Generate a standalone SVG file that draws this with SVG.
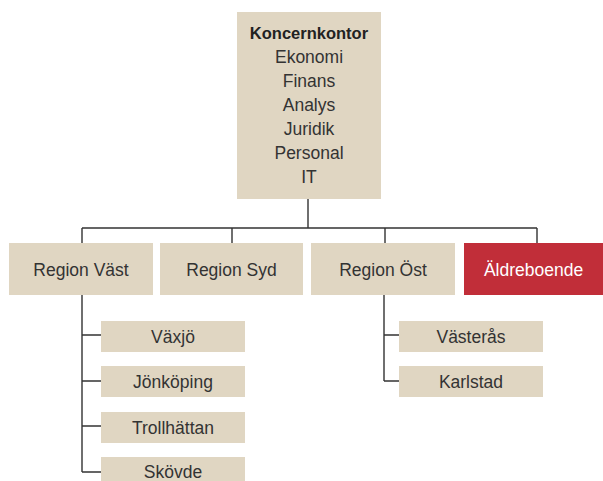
<svg xmlns="http://www.w3.org/2000/svg" width="603" height="481" viewBox="0 0 603 481">
<style>
.box{fill:#e0d6c2}
.red{fill:#c12e39}
.t{font-family:"Liberation Sans",Arial,sans-serif;font-size:17.5px;fill:#333;text-anchor:middle}
.b{font-weight:bold;font-size:16.5px;fill:#222}
.w{fill:#fff}
.c{fill:none;stroke:#333;stroke-width:1.4}
</style>
<rect width="603" height="481" fill="#fff"/>
<g id="connectors">
<path class="c" d="M308 199V228M82 228H537M82 228V243M232 228V243M385 228V243M537 228V243"/>
<path class="c" d="M82 295V472M82 335H101M82 381H101M82 426H101M82 472H101"/>
<path class="c" d="M384 295V381M384 335H399M384 381H399"/>
</g>
<g id="koncernkontor">
<rect class="box" x="237" y="12" width="144" height="187"/>
<text class="t b" x="309" y="39">Koncernkontor</text>
<text class="t" x="309" y="63">Ekonomi</text>
<text class="t" x="309" y="87">Finans</text>
<text class="t" x="309" y="111">Analys</text>
<text class="t" x="309" y="135">Juridik</text>
<text class="t" x="309" y="159">Personal</text>
<text class="t" x="309" y="183">IT</text>
</g>
<g id="region-vast"><rect class="box" x="9" y="243" width="144" height="52"/><text class="t" x="81" y="276">Region Väst</text></g>
<g id="region-syd"><rect class="box" x="160" y="243" width="143" height="52"/><text class="t" x="231.5" y="276">Region Syd</text></g>
<g id="region-ost"><rect class="box" x="311" y="243" width="144" height="52"/><text class="t" x="383" y="276">Region Öst</text></g>
<g id="aldreboende"><rect class="red" x="464" y="243" width="139" height="52"/><text class="t w" x="533.5" y="276">Äldreboende</text></g>
<g id="vaxjo"><rect class="box" x="101" y="321" width="144" height="31"/><text class="t" x="173" y="343">Växjö</text></g>
<g id="jonkoping"><rect class="box" x="101" y="366" width="144" height="31"/><text class="t" x="173" y="388">Jönköping</text></g>
<g id="trollhattan"><rect class="box" x="101" y="412" width="144" height="31"/><text class="t" x="173" y="434">Trollhättan</text></g>
<g id="skovde"><rect class="box" x="101" y="457" width="144" height="31"/><text class="t" x="173" y="478">Skövde</text></g>
<g id="vasteras"><rect class="box" x="399" y="321" width="144" height="31"/><text class="t" x="471" y="343">Västerås</text></g>
<g id="karlstad"><rect class="box" x="399" y="366" width="144" height="31"/><text class="t" x="471" y="388">Karlstad</text></g>
</svg>
